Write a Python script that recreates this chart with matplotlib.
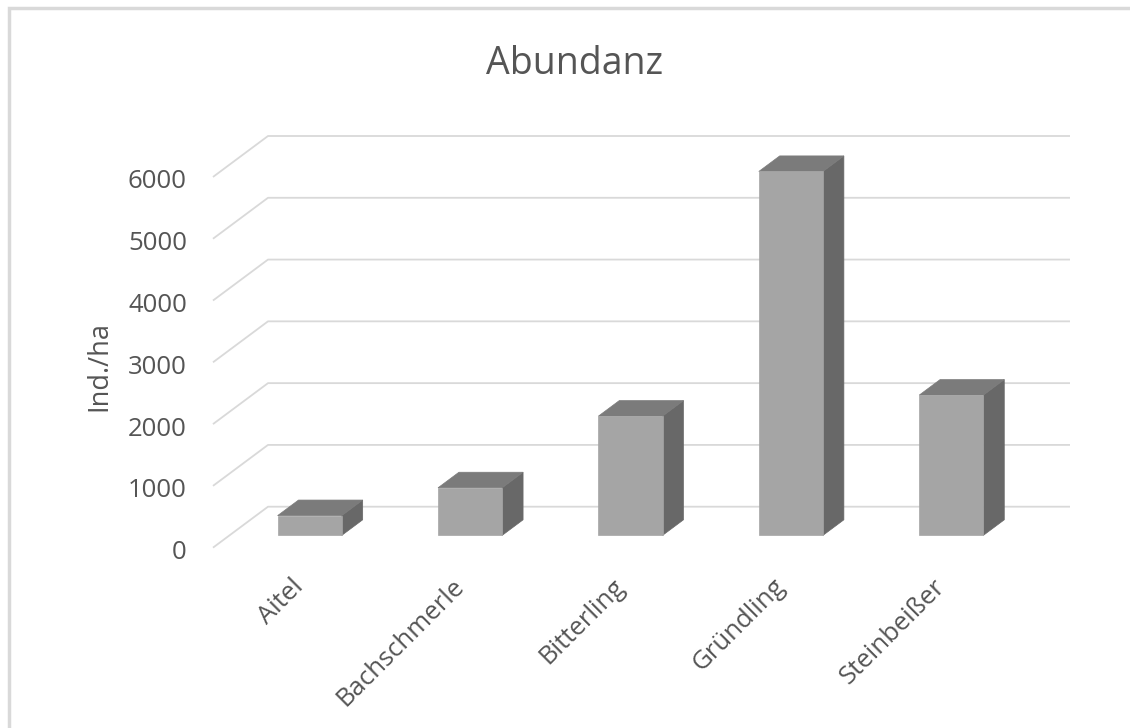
import matplotlib
matplotlib.use("Agg")
import matplotlib.pyplot as plt
from matplotlib.patches import Polygon

# Data
species = ["Aitel", "Bachschmerle", "Bitterling", "Gründling", "Steinbeißer"]
abundance = [320, 770, 1930, 5890, 2270]
y_ticks = [0, 1000, 2000, 3000, 4000, 5000, 6000]
title = "Abundanz"
y_label = "Ind./ha"

# Oblique projection of the 3D column chart:
# x in category units, v in value units, d = depth (0 = back wall, 1 = front edge)
DEPTH_DX = -0.343   # shift in category units from back to front
DEPTH_DV = -663.0   # shift in value units from back to front
BAR_FRONT, BAR_BACK = 0.70, 0.32
BAR_HALF = 0.20

def proj(x, v, d):
    return x + d * DEPTH_DX, v + d * DEPTH_DV

W, H, DPI = 1130, 728, 100
fig = plt.figure(figsize=(W / DPI, H / DPI), dpi=DPI)
ax = fig.add_axes([0, 0, 1, 1])
ax.set_axis_off()

# map axes so that the back wall spans 5 categories and 0..6000 in value
n = len(species)
px_per_cat = 802 / n
px_per_val = 370.7 / 6000
x_left = -268 / px_per_cat
ax.set_xlim(x_left, x_left + W / px_per_cat)
y_bottom = -(H - 506.7) / px_per_val
ax.set_ylim(y_bottom, y_bottom + H / px_per_val)

grid_col = "#d9d9d9"
text_col = "#555555"
font = "Open Sans"

# gridlines on back wall and side wall
for t in y_ticks:
    xb, vb = proj(0, t, 0)
    xe, ve = proj(n, t, 0)
    xf, vf = proj(0, t, 1)
    ax.plot([xf, xb, xe], [vf, vb, ve], color=grid_col, lw=1.3,
            solid_capstyle="butt", zorder=1)
    ax.annotate(f"{t}", xy=(xf, vf), xytext=(-26, -5), textcoords="offset pixels",
                ha="right", va="center", fontsize=18.5, color=text_col,
                family=font)

front_col, top_col, side_col = "#a5a5a5", "#7b7b7b", "#686868"

for i, (name, val) in enumerate(zip(species, abundance)):
    c = i + 0.5
    x0, x1 = c - BAR_HALF, c + BAR_HALF
    front = [proj(x0, 0, BAR_FRONT), proj(x1, 0, BAR_FRONT),
             proj(x1, val, BAR_FRONT), proj(x0, val, BAR_FRONT)]
    top = [proj(x0, val, BAR_FRONT), proj(x1, val, BAR_FRONT),
           proj(x1, val, BAR_BACK), proj(x0, val, BAR_BACK)]
    side = [proj(x1, 0, BAR_FRONT), proj(x1, 0, BAR_BACK),
            proj(x1, val, BAR_BACK), proj(x1, val, BAR_FRONT)]
    for poly, col in ((side, side_col), (top, top_col), (front, front_col)):
        ax.add_patch(Polygon(poly, closed=True, facecolor=col, edgecolor=col,
                             lw=0.5, zorder=2 + i))
    lx, lv = proj(c, 0, 1)
    ax.annotate(name, xy=(lx, lv), xytext=(7, -35), textcoords="offset pixels",
                ha="right", va="center", rotation=45, rotation_mode="anchor",
                fontsize=18.5, color=text_col, family=font)

fig.text(575 / W, 1 - 64 / H, title, ha="center", va="center",
         fontsize=27, color=text_col, family=font)
fig.text(99 / W, 1 - 366 / H, y_label, ha="center", va="center", rotation=90,
         fontsize=19.5, color=text_col, family=font)

# chart frame (top and left edges visible)
ax.plot([8.5 / W, 8.5 / W, 1], [0, 1 - 7.5 / H, 1 - 7.5 / H],
        transform=fig.transFigure, color=grid_col, lw=2.5, zorder=0,
        solid_joinstyle="miter")

fig.savefig("out.png", dpi=DPI, facecolor="white")
